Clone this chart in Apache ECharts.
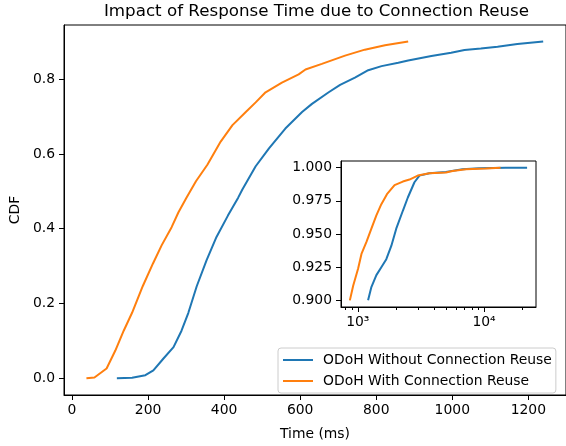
<!DOCTYPE html>
<html><head><meta charset="utf-8">
<script src="https://cdn.jsdelivr.net/npm/echarts@6/dist/echarts.min.js"></script>
<style>html,body{margin:0;padding:0;background:#fff}#c{width:566px;height:446px}</style>
</head><body><div id="c"></div><script>
const titleText = 'Impact of Response Time due to Connection Reuse';
const seriesNames = ['ODoH Without Connection Reuse', 'ODoH With Connection Reuse'];
const seriesColors = ['#1f77b4', '#ff7f0e'];

// Main plot: ODoH Without Connection Reuse (blue)
const withoutMs = [118, 158, 193, 214, 240, 267, 288, 306, 328, 354, 380, 410, 437, 448, 483, 518, 561, 605, 631, 675, 705, 744, 779, 814, 858, 884, 945, 997, 1032, 1075, 1119, 1171, 1239];
const withoutCdf = [0, 0.001, 0.008, 0.021, 0.052, 0.083, 0.127, 0.175, 0.246, 0.316, 0.378, 0.435, 0.483, 0.505, 0.567, 0.615, 0.668, 0.712, 0.734, 0.765, 0.785, 0.804, 0.824, 0.835, 0.844, 0.850, 0.862, 0.871, 0.878, 0.882, 0.887, 0.894, 0.901];
// Main plot: ODoH With Connection Reuse (orange)
const withMs = [38, 59, 91, 114, 136, 158, 186, 213, 236, 262, 280, 301, 326, 356, 391, 422, 457, 483, 509, 552, 596, 614, 657, 718, 770, 823, 884];
const withCdf = [0, 0.002, 0.026, 0.074, 0.127, 0.175, 0.246, 0.307, 0.356, 0.404, 0.444, 0.483, 0.527, 0.571, 0.633, 0.677, 0.712, 0.738, 0.765, 0.791, 0.813, 0.826, 0.841, 0.863, 0.879, 0.891, 0.901];

// Inset (tail, log x)
const insetWithoutMs = [1206, 1281, 1403, 1536, 1682, 1842, 2016, 2274, 2491, 2810, 3078, 3687, 4990, 6750, 9140, 14830, 21930];
const insetWithoutCdf = [0.900, 0.910, 0.919, 0.925, 0.931, 0.941, 0.954, 0.9675, 0.9775, 0.989, 0.994, 0.9958, 0.9968, 0.9988, 0.9995, 1.0, 1.0];
const insetWithMs = [865, 919, 1006, 1069, 1171, 1281, 1403, 1536, 1702, 1955, 2274, 2566, 2985, 3687, 4990, 5636, 7180, 10310, 13520];
const insetWithCdf = [0.900, 0.911, 0.924, 0.935, 0.944, 0.954, 0.964, 0.9725, 0.980, 0.9868, 0.9895, 0.991, 0.994, 0.9958, 0.9963, 0.9975, 0.9988, 0.9993, 1.0];

const xTicks = [0, 200, 400, 600, 800, 1000, 1200];
const yTicks = [0, 0.2, 0.4, 0.6, 0.8];
const insetYTicks = [0.9, 0.925, 0.95, 0.975, 1.0];
const insetXTicks = [1000, 10000];
const insetXTickLabels = ['10³', '10⁴'];
const insetXMinorTicks = [800, 900, 2000, 3000, 4000, 5000, 6000, 7000, 8000, 9000, 20000];

const zip = (a, b) => a.map((v, i) => [v, b[i]]);
const FS = 13.9;
const black = '#000';

const chart = echarts.init(document.getElementById('c'), null, {renderer: 'canvas'});
chart.setOption({
  animation: false,
  backgroundColor: '#fff',
  textStyle: {fontFamily: 'DejaVu Sans', color: black},
  graphic: [{
    type: 'text', x: 316.5, y: 12, z: 30,
    style: {text: titleText, textAlign: 'center', textVerticalAlign: 'middle',
      font: '16.7px "DejaVu Sans"', fill: black}
  }],
  legend: {
    orient: 'vertical', left: 278, top: 348, z: 20,
    data: seriesNames,
    icon: 'rect', itemWidth: 30, itemHeight: 2, itemGap: 5,
    padding: [4, 4, 4, 5],
    borderColor: '#cccccc', borderWidth: 1, borderRadius: 3,
    backgroundColor: 'rgba(255,255,255,0.8)',
    textStyle: {fontFamily: 'DejaVu Sans', fontSize: FS, color: black, lineHeight: 16, padding: [0, 0, 0, 5]}
  },
  grid: [
    {left: 64, top: 25, width: 505, height: 376, show: true, borderColor: black, borderWidth: 1, backgroundColor: '#fff'},
    {left: 341, top: 161, width: 195, height: 146, show: true, borderColor: black, borderWidth: 1, backgroundColor: '#fff', z: 5}
  ],
  xAxis: [
    {
      type: 'value', gridIndex: 0, min: -21, max: 1299, position: 'bottom',
      axisLine: {show: true, onZero: false, lineStyle: {color: black, width: 1}},
      axisTick: {show: true, customValues: xTicks, length: 5, lineStyle: {color: black}},
      axisLabel: {customValues: xTicks, fontSize: FS, color: black, margin: 8, fontFamily: 'DejaVu Sans',
        formatter: v => String(v)},
      splitLine: {show: false},
      name: 'Time (ms)', nameLocation: 'middle', nameGap: 32,
      nameTextStyle: {fontSize: FS, color: black, fontFamily: 'DejaVu Sans'}
    },
    {
      type: 'log', gridIndex: 1, min: 736, max: 25800, z: 6, position: 'bottom',
      axisLine: {show: true, onZero: false, lineStyle: {color: black, width: 1}},
      axisTick: {show: true, customValues: insetXTicks, length: 5, lineStyle: {color: black}},
      axisLabel: {customValues: insetXTicks, fontSize: FS, color: black, margin: 8, fontFamily: 'DejaVu Sans',
        formatter: v => insetXTickLabels[insetXTicks.indexOf(Math.round(v))] || ''},
      splitLine: {show: false}, minorTick: {show: false}
    },
    {
      type: 'log', gridIndex: 1, min: 736, max: 25800, z: 6, position: 'bottom', offset: 0,
      axisLine: {show: false, onZero: false},
      axisTick: {show: true, customValues: insetXMinorTicks, length: 3, lineStyle: {color: black, width: 1}},
      axisLabel: {show: false},
      splitLine: {show: false}
    }
  ],
  yAxis: [
    {
      type: 'value', gridIndex: 0, min: -0.045, max: 0.945, position: 'left',
      axisLine: {show: true, onZero: false, lineStyle: {color: black, width: 1}},
      axisTick: {show: true, customValues: yTicks, length: 5, lineStyle: {color: black}},
      axisLabel: {customValues: yTicks, fontSize: FS, color: black, margin: 9, fontFamily: 'DejaVu Sans',
        formatter: v => v.toFixed(1)},
      splitLine: {show: false},
      name: 'CDF', nameLocation: 'middle', nameGap: 31,
      nameTextStyle: {fontSize: FS, color: black, fontFamily: 'DejaVu Sans'}
    },
    {
      type: 'value', gridIndex: 1, min: 0.895, max: 1.005, z: 6, position: 'left',
      axisLine: {show: true, onZero: false, lineStyle: {color: black, width: 1}},
      axisTick: {show: true, customValues: insetYTicks, length: 5, lineStyle: {color: black}},
      axisLabel: {customValues: insetYTicks, fontSize: FS, color: black, margin: 9, fontFamily: 'DejaVu Sans',
        formatter: v => v.toFixed(3)},
      splitLine: {show: false}
    }
  ],
  series: [
    {name: seriesNames[0], type: 'line', xAxisIndex: 0, yAxisIndex: 0, data: zip(withoutMs, withoutCdf),
      showSymbol: false, color: seriesColors[0], lineStyle: {width: 2, color: seriesColors[0]}},
    {name: seriesNames[1], type: 'line', xAxisIndex: 0, yAxisIndex: 0, data: zip(withMs, withCdf),
      showSymbol: false, color: seriesColors[1], lineStyle: {width: 2, color: seriesColors[1]}},
    {name: seriesNames[0], type: 'line', xAxisIndex: 1, yAxisIndex: 1, data: zip(insetWithoutMs, insetWithoutCdf),
      showSymbol: false, color: seriesColors[0], lineStyle: {width: 2, color: seriesColors[0]}, z: 7},
    {name: seriesNames[1], type: 'line', xAxisIndex: 1, yAxisIndex: 1, data: zip(insetWithMs, insetWithCdf),
      showSymbol: false, color: seriesColors[1], lineStyle: {width: 2, color: seriesColors[1]}, z: 7}
  ]
});
</script></body></html>
